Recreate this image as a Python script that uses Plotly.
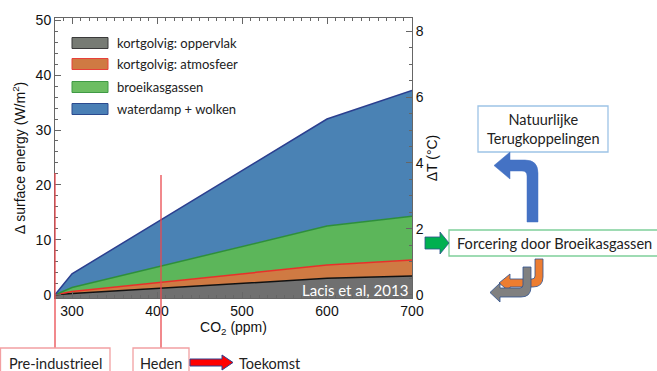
import plotly.graph_objects as go

# ---------------- data ----------------
co2 = [280, 300, 600, 700]                 # ppm
top_surface = [0.0, 0.2, 3.0, 3.4]          # W/m2, top of "kortgolvig: oppervlak"
top_atmos = [0.0, 0.6, 5.4, 6.3]            # top of "kortgolvig: atmosfeer"
top_ghg = [0.0, 1.3, 12.5, 14.3]            # top of "broeikasgassen"
top_total = [0.0, 3.8, 32.0, 37.2]          # top of "waterdamp + wolken"
series_names = ["kortgolvig: oppervlak", "kortgolvig: atmosfeer",
                "broeikasgassen", "waterdamp + wolken"]
x_ticks = [300, 400, 500, 600, 700]
y_ticks = [0, 10, 20, 30, 40, 50]
t_ticks = [0, 2, 4, 6, 8]

# ---------------- styling ----------------
fills = ["#707070", "#cf7a43", "#5cb65a", "#4a82b4"]
lines = ["#111111", "#e8302a", "#2e8f3a", "#2b3f8f"]
leg_fill = ["#777b74", "#cf7a43", "#6cbd62", "#4a7fb5"]
leg_line = ["#3a3a3a", "#e8403a", "#3f9a45", "#2b4a8f"]
Y0, Y1 = -0.6, 50.4
K = 6.0  # W/m2 per degC

W, H = 657, 371
L, R, T, B = 55, 245, 18, 73
PW, PH = W - L - R, H - T - B

def PX(x):
    return (x - L) / PW

def PY(y):
    return (H - B - y) / PH

def path(cmds):
    out = []
    for c in cmds:
        if c[0] == "Z":
            out.append("Z")
        else:
            pts = c[1:]
            s = c[0]
            for i in range(0, len(pts), 2):
                s += " %.5f,%.5f" % (PX(pts[i]), PY(pts[i + 1]))
            out.append(s)
    return " ".join(out)

fig = go.Figure()
fig.add_trace(go.Scatter(x=co2, y=[Y0] * len(co2), mode="lines",
                         line=dict(width=0), showlegend=False, hoverinfo="skip"))
for name, ys, fc, lc in zip(series_names, [top_surface, top_atmos, top_ghg, top_total], fills, lines):
    fig.add_trace(go.Scatter(x=co2, y=ys, mode="lines", name=name, fill="tonexty",
                             fillcolor=fc, line=dict(color=lc, width=1.5), showlegend=False))
# invisible trace for right axis
fig.add_trace(go.Scatter(x=[co2[0]], y=[0], yaxis="y2", mode="markers",
                         marker=dict(opacity=0), showlegend=False, hoverinfo="skip"))

axfont = dict(family="Liberation Sans, Arial", size=14, color="#111")
fig.update_layout(
    width=W, height=H, margin=dict(l=L, r=R, t=T, b=B, autoexpand=False),
    paper_bgcolor="white", plot_bgcolor="white", showlegend=False,
    xaxis=dict(range=[280, 700], tickvals=x_ticks, ticks="inside", ticklen=6,
               tickcolor="#666", showline=True, linecolor="#666", linewidth=1,
               mirror="ticks", showgrid=False, zeroline=False, tickfont=axfont,
               minor=dict(dtick=10, ticks="inside", ticklen=3, tickcolor="#666"),
               title=dict(text="CO<sub>2</sub> (ppm)", font=axfont, standoff=2)),
    yaxis=dict(range=[Y0, Y1], tickvals=y_ticks, ticks="inside", ticklen=6,
               tickcolor="#666", showline=True, linecolor="#666", linewidth=1,
               showgrid=False, zeroline=False, tickfont=axfont,
               minor=dict(dtick=2, ticks="inside", ticklen=3, tickcolor="#666"),
               title=dict(text="Δ surface energy (W/m<sup>2</sup>)", font=axfont, standoff=6)),
    yaxis2=dict(range=[Y0 / K, Y1 / K], tickvals=t_ticks, overlaying="y", side="right",
                anchor="x", ticks="inside", ticklen=6, tickcolor="#666", showline=True,
                linecolor="#666", linewidth=1, showgrid=False, zeroline=False, tickfont=axfont,
                minor=dict(dtick=0.5, ticks="inside", ticklen=3, tickcolor="#666"),
                title=dict(text="ΔT (°C)", font=axfont, standoff=4)),
)

shapes = []
annos = []
# legend
leg_y = [43, 64, 87, 109]
for n, fc, lc, yy in zip(series_names, leg_fill, leg_line, leg_y):
    shapes.append(dict(type="rect", xref="paper", yref="paper", x0=PX(72), x1=PX(108),
                       y0=PY(yy + 5.5), y1=PY(yy - 5.5), fillcolor=fc, line=dict(color=lc, width=1)))
    annos.append(dict(text=n, xref="paper", yref="paper", x=PX(115), y=PY(yy),
                      xanchor="left", yanchor="middle", showarrow=False,
                      font=dict(family="Lato", size=13, color="#222")))

annos.append(dict(text="Lacis et al, 2013", xref="paper", yref="paper", x=PX(410), y=PY(290),
                  xanchor="right", yanchor="middle", showarrow=False,
                  font=dict(family="Lato", size=15, color="white")))

# red timeline lines
red = "#ea4a4f"
shapes.append(dict(type="line", xref="paper", yref="paper", x0=PX(55), x1=PX(55),
                   y0=PY(173), y1=PY(348), line=dict(color=red, width=1.3)))
shapes.append(dict(type="line", xref="paper", yref="paper", x0=PX(161), x1=PX(161),
                   y0=PY(175), y1=PY(348), line=dict(color=red, width=1.3)))
# boxes
boxcol = "#f2a0a2"
shapes.append(dict(type="rect", xref="paper", yref="paper", x0=PX(0.5), x1=PX(110),
                   y0=PY(348), y1=PY(385), line=dict(color=boxcol, width=1.3)))
shapes.append(dict(type="rect", xref="paper", yref="paper", x0=PX(133), x1=PX(189),
                   y0=PY(348), y1=PY(385), line=dict(color=boxcol, width=1.3)))
lab = dict(family="Lato", size=14.5, color="#222")
lab2 = dict(family="Lato", size=14.6, color="#222")
annos.append(dict(text="Pre-industrieel", xref="paper", yref="paper", x=PX(55), y=PY(363),
                  xanchor="center", yanchor="middle", showarrow=False, font=lab))
annos.append(dict(text="Heden", xref="paper", yref="paper", x=PX(161), y=PY(363),
                  xanchor="center", yanchor="middle", showarrow=False, font=lab))
annos.append(dict(text="Toekomst", xref="paper", yref="paper", x=PX(237), y=PY(363),
                  xanchor="left", yanchor="middle", showarrow=False, font=lab))
# red arrow
shapes.append(dict(type="path", xref="paper", yref="paper",
                   path=path([("M", 190, 359), ("L", 222, 359), ("L", 222, 355), ("L", 233, 362.5),
                              ("L", 222, 370), ("L", 222, 366), ("L", 190, 366), ("Z",)]),
                   fillcolor="#ff0000", line=dict(color="#2f3f8f", width=1)))

# right-hand diagram
shapes.append(dict(type="rect", xref="paper", yref="paper", x0=PX(478), x1=PX(608),
                   y0=PY(152), y1=PY(106), line=dict(color="#9dc3e6", width=1.3)))
annos.append(dict(text="Natuurlijke<br>Terugkoppelingen", xref="paper", yref="paper",
                  x=PX(543), y=PY(129), xanchor="center", yanchor="middle", showarrow=False,
                  font=lab))
shapes.append(dict(type="rect", xref="paper", yref="paper", x0=PX(449), x1=PX(662),
                   y0=PY(256), y1=PY(230), line=dict(color="#7fcf9a", width=1.3)))
annos.append(dict(text="Forcering door Broeikasgassen", xref="paper", yref="paper",
                  x=PX(455), y=PY(243), xanchor="left", yanchor="middle", showarrow=False,
                  font=lab2))
# green arrow
shapes.append(dict(type="path", xref="paper", yref="paper",
                   path=path([("M", 425, 237), ("L", 440, 237), ("L", 440, 232), ("L", 449, 243),
                              ("L", 440, 254), ("L", 440, 249), ("L", 425, 249), ("Z",)]),
                   fillcolor="#00b050", line=dict(color="#2f528f", width=0.8)))
# blue curved arrow
shapes.append(dict(type="path", xref="paper", yref="paper",
                   path=path([("M", 510, 160), ("L", 525, 160), ("Q", 538, 160, 538, 173),
                              ("L", 538, 222), ("L", 527, 222), ("L", 527, 176),
                              ("Q", 527, 171, 522, 171), ("L", 510, 171), ("L", 510, 179),
                              ("L", 494, 165.5), ("L", 510, 152), ("Z",)]),
                   fillcolor="#4472c4", line=dict(color="#4472c4", width=0.5)))
# orange curved arrow
shapes.append(dict(type="path", xref="paper", yref="paper",
                   path=path([("M", 535, 259), ("L", 543, 259), ("L", 543, 277),
                              ("Q", 543, 287, 533, 287), ("L", 510, 287), ("L", 510, 292),
                              ("L", 499, 283), ("L", 510, 274), ("L", 510, 279),
                              ("L", 532, 279), ("Q", 535, 279, 535, 276), ("Z",)]),
                   fillcolor="#ed7d31", line=dict(color="#2f528f", width=0.8)))
# grey curved arrow
shapes.append(dict(type="path", xref="paper", yref="paper",
                   path=path([("M", 523, 267), ("L", 531, 267), ("L", 531, 287),
                              ("Q", 531, 297, 521, 297), ("L", 500, 297), ("L", 500, 302),
                              ("L", 490, 292.5), ("L", 500, 283), ("L", 500, 288),
                              ("L", 520, 288), ("Q", 523, 288, 523, 285), ("Z",)]),
                   fillcolor="#808080", line=dict(color="#2f528f", width=0.8)))

fig.update_layout(shapes=shapes, annotations=annos)
fig.write_html("out.html")
